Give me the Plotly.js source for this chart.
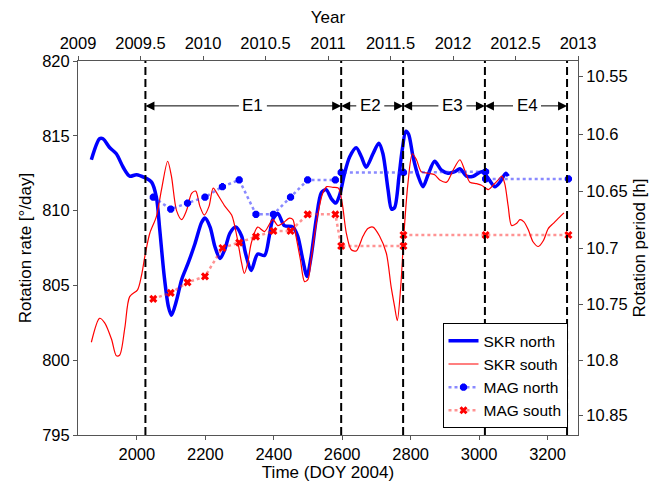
<!DOCTYPE html>
<html>
<head>
<meta charset="utf-8">
<script src="https://cdn.plot.ly/plotly-3.0.1.min.js"></script>
<style>html,body{margin:0;padding:0;background:#fff;}#chart{width:665px;height:483px;}</style>
</head>
<body>
<div id="chart"></div>
<script>
// ---- data (DOY 2004 vs rotation rate in deg/day) ----
var skrNorthDoy = [1867,1891,1901,1921,1940,1960,1979,1999,2023,2043,2057,2067,2080,2092,2101,2116,2131,2150,2170,2189,2199,2214,2228,2243,2257,2272,2289,2306,2318,2334,2353,2373,2387,2397,2412,2431,2456,2470,2485,2497,2509,2524,2539,2553,2568,2581,2592,2607,2622,2641,2656,2670,2690,2707,2719,2734,2744,2753,2766,2775,2786,2794,2807,2822,2836,2851,2870,2890,2909,2929,2944,2963,2983,3007,3022,3046,3061,3078,3085];
var skrNorthRate = [813.4,814.8,814.8,814.2,813.8,812.9,812.3,812.4,812.2,811.9,810.9,808.7,805.6,803.6,803.0,804.0,805.4,806.5,807.8,809.2,809.5,808.9,807.6,806.8,807.4,808.5,808.9,808.3,807.1,806.0,807.1,807.0,808.3,809.4,809.8,809.0,808.9,808.3,806.7,805.6,806.9,809.4,811.2,811.4,810.8,810.5,811.0,812.5,813.6,814.2,813.6,812.9,813.8,814.5,813.8,811.4,810.1,810.2,812.3,814.0,815.3,815.1,813.6,812.3,811.6,812.4,813.3,812.7,812.5,812.6,812.8,812.3,812.3,812.6,812.3,811.6,811.9,812.5,812.3];

var skrSouthDoy = [1867,1891,1906,1926,1940,1950,1965,1979,2002,2013,2025,2038,2057,2072,2090,2101,2116,2131,2145,2160,2172,2184,2197,2211,2223,2238,2257,2277,2292,2306,2314,2324,2334,2353,2373,2397,2412,2426,2446,2456,2465,2478,2490,2500,2509,2526,2543,2555,2573,2589,2600,2612,2626,2641,2661,2675,2690,2709,2729,2743,2753,2761,2771,2780,2792,2805,2817,2831,2851,2870,2885,2905,2924,2944,2958,2973,2993,3007,3027,3041,3056,3066,3075,3085,3095,3110,3119,3131,3144,3158,3173,3188,3202,3217,3232,3248];
var skrSouthRate = [801.2,802.8,802.5,801.4,800.3,800.35,802.2,804.25,804.7,805.6,807.15,808.5,809.6,811.4,813.3,812.3,810.0,809.4,810.0,811.15,811.3,810.3,809.7,810.3,811.5,811.0,810.3,809.7,808.3,806.5,805.8,806.5,807.8,808.9,808.6,809.4,809.0,809.15,809.5,809.4,808.3,806.7,805.25,805.4,806.7,809.4,811.15,811.6,811.55,811.5,810.5,808.5,807.4,807.3,808.3,808.8,808.9,808.3,807.15,804.9,803.6,802.65,804.9,808.3,811.8,813.8,813.4,812.6,812.5,812.4,812.05,811.9,812.7,813.4,812.7,811.9,811.8,811.7,811.4,811.7,812.05,812.3,811.8,810.3,809.0,809.15,809.4,809.25,808.7,807.9,807.6,808.0,808.8,809.15,809.5,809.85];

var magNorthDoy = [2048,2099,2148,2199,2250,2299,2348,2399,2449,2499,2580,2597,2779,3019,3019,3261];
var magNorthRate = [810.9,810.1,810.5,810.9,811.6,812.05,809.75,809.75,810.9,812.05,812.05,812.55,812.55,812.6,812.12,812.12];

var magSouthDoy = [2048,2099,2148,2199,2250,2299,2348,2399,2449,2499,2580,2597,2779,2779,3019,3261];
var magSouthRate = [804.1,804.5,805.2,805.6,807.5,807.86,808.26,808.64,808.64,809.75,809.75,807.63,807.63,808.37,808.37,808.37];

var epochBounds = [2025, 2597, 2778, 3017, 3257];
var epochLabels = ['E1','E2','E3','E4'];
var epochLabelDoy = [2339, 2682, 2922, 3140];
var epochArrowRate = 817;

var doyTicks = [2000,2200,2400,2600,2800,3000,3200];
var rateTicks = [795,800,805,810,815,820];
var yearTicks = [2009,2009.5,2010,2010.5,2011,2011.5,2012,2012.5,2013];
var periodTicks = [10.55,10.6,10.65,10.7,10.75,10.8,10.85];
var doyRange = [1828, 3289];
var yearRange = [2009, 2013];
var rateRange = [795, 820];

// ---- chart ----
var FONT = 'Liberation Sans, Arial, Helvetica, sans-serif';
var AX = '#555';

var traces = [
  {x: skrNorthDoy, y: skrNorthRate, type:'scatter', mode:'lines', name:'SKR north',
   line:{color:'#0000ff', width:3.5, shape:'spline', smoothing:0.8}, hoverinfo:'skip'},
  {x: skrSouthDoy, y: skrSouthRate, type:'scatter', mode:'lines', name:'SKR south',
   line:{color:'#ff0000', width:1.2, shape:'spline', smoothing:0.8}, hoverinfo:'skip'},
  {x: magNorthDoy, y: magNorthRate, type:'scatter', mode:'lines+markers', name:'MAG north',
   line:{color:'rgba(40,40,255,0.55)', width:2.5, dash:'dot'},
   marker:{symbol:'asterisk-open', size:6, color:'#0000ff', line:{color:'#0000ff', width:3}}, hoverinfo:'skip'},
  {x: magSouthDoy, y: magSouthRate, type:'scatter', mode:'lines+markers', name:'MAG south',
   line:{color:'rgba(255,40,40,0.5)', width:2.5, dash:'dot'},
   marker:{symbol:'x-thin-open', size:6, color:'#ff0000', line:{color:'#ff0000', width:3}}, hoverinfo:'skip'},
  // carriers for the secondary axes (no visible marks)
  {x: yearRange, y: rateRange, xaxis:'x2', yaxis:'y', type:'scatter', mode:'lines',
   line:{width:0, color:'rgba(0,0,0,0)'}, showlegend:false, hoverinfo:'skip'},
  {x: doyRange, y: rateRange, xaxis:'x', yaxis:'y2', type:'scatter', mode:'lines',
   line:{width:0, color:'rgba(0,0,0,0)'}, showlegend:false, hoverinfo:'skip'}
];

var shapes = epochBounds.map(function(b){
  return {type:'line', xref:'x', yref:'paper', x0:b, x1:b, y0:0, y1:1,
          line:{color:'#000', width:2, dash:'8px,4px'}, layer:'above'};
});

var annotations = [];
epochLabels.forEach(function(lab, i){
  [epochBounds[i], epochBounds[i+1]].forEach(function(b, k){
    annotations.push({x:b, y:epochArrowRate, xref:'x', yref:'y',
      ax:epochLabelDoy[i], ay:epochArrowRate, axref:'x', ayref:'y',
      text:lab, showarrow:true, arrowhead:2, arrowsize:1.8, arrowwidth:1, arrowcolor:'#000',
      standoff:0, borderpad:3,
      font:{family:FONT, size:17, color: k===0 ? '#000' : 'rgba(0,0,0,0)'}});
  });
});

var layout = {
  width:665, height:483,
  margin:{l:78, r:87, t:61, b:48, pad:0},
  paper_bgcolor:'#fff', plot_bgcolor:'#fff',
  font:{family:FONT, size:16.5, color:'#000'},
  showlegend:true,
  legend:{x:0.979, xanchor:'right', y:0.018, yanchor:'bottom',
    bgcolor:'#fff', bordercolor:'#000', borderwidth:1,
    font:{family:FONT, size:15.5, color:'#000'}, tracegroupgap:0},
  xaxis:{range:doyRange, tickvals:doyTicks, ticktext:doyTicks.map(String),
    showgrid:false, zeroline:false, showline:true, linecolor:AX, linewidth:1,
    ticks:'outside', ticklen:4, tickcolor:AX, mirror:false,
    title:{text:'Time (DOY 2004)', font:{size:17}, standoff:4}},
  xaxis2:{range:yearRange, overlaying:'x', side:'top', tickvals:yearTicks, ticktext:yearTicks.map(String),
    showgrid:false, zeroline:false, showline:true, linecolor:AX, linewidth:1,
    ticks:'outside', ticklen:4, tickcolor:AX,
    title:{text:'Year', font:{size:17}, standoff:6}},
  yaxis:{range:rateRange, tickvals:rateTicks, ticktext:rateTicks.map(String),
    showgrid:false, zeroline:false, showline:true, linecolor:AX, linewidth:1,
    ticks:'outside', ticklen:4, tickcolor:AX,
    title:{text:'Rotation rate [°/day]', font:{size:17}, standoff:6}},
  yaxis2:{range:rateRange, overlaying:'y', side:'right',
    tickvals:periodTicks.map(function(p){return 8640/p;}), ticktext:periodTicks.map(String),
    showgrid:false, zeroline:false, showline:true, linecolor:AX, linewidth:1,
    ticks:'outside', ticklen:4, tickcolor:AX,
    title:{text:'Rotation period [h]', font:{size:17}, standoff:6}},
  shapes:shapes,
  annotations:annotations
};

Plotly.newPlot('chart', traces, layout, {staticPlot:true, displayModeBar:false});
</script>
</body>
</html>
